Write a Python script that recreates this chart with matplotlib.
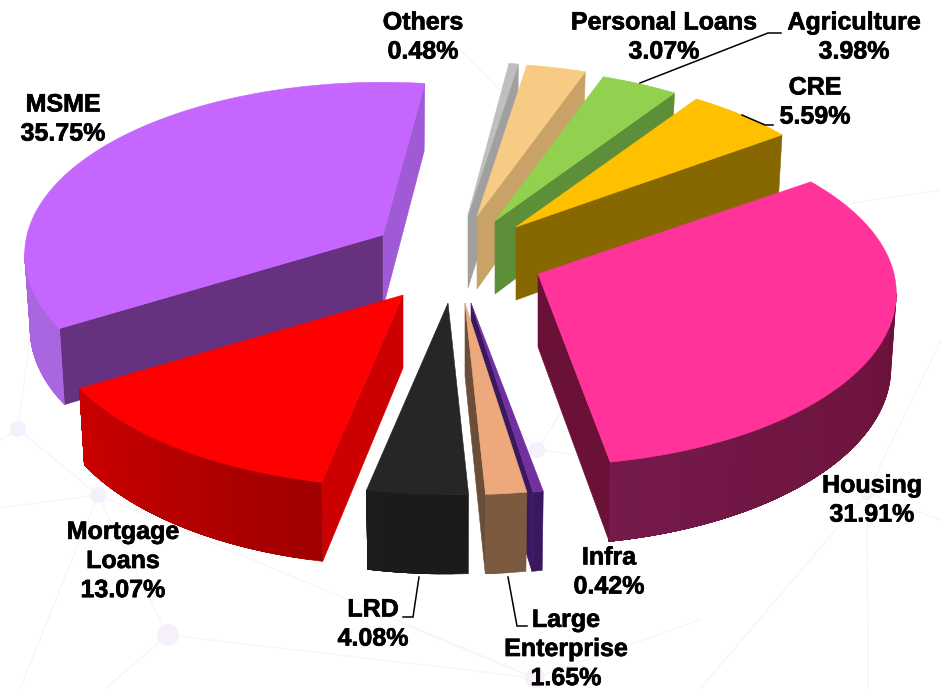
import numpy as np
import matplotlib
matplotlib.use("Agg")
import matplotlib.pyplot as plt
import matplotlib.patheffects as pe
from matplotlib.patches import Polygon, Circle
from matplotlib.colors import to_rgb

# Portfolio shares, clockwise from the start angle
segments = ["Others", "Personal Loans", "Agriculture", "CRE", "Housing",
            "Infra", "Large Enterprise", "LRD", "Mortgage Loans", "MSME"]
shares = [0.48, 3.07, 3.98, 5.59, 31.91, 0.42, 1.65, 4.08, 13.07, 35.75]
label_lines = ["Others", "Personal Loans", "Agriculture", "CRE", "Housing",
               "Infra", "Large\nEnterprise", "LRD", "Mortgage\nLoans", "MSME"]

# Colours per slice: top face, visible cut face, outer rim start and end
top_colors = ["#BFBFBF", "#F8CB84", "#92D050", "#FFC000", "#FF3399",
              "#7030A0", "#EDA97B", "#262626", "#FF0000", "#C566FF"]
cut_colors = ["#A0A0A0", "#C9A268", "#5C8F37", "#876800", "#6B1138",
              "#3A1860", "#6B4E38", "#1A1A1A", "#CC0000", "#66317F"]
rim_a = ["#A0A0A0", "#C9A268", "#5C8F37", "#876800", "#6B1138",
         "#3A1860", "#7B5A40", "#1A1A1A", "#A00000", "#A966E0"]
rim_b = ["#A0A0A0", "#C9A268", "#5C8F37", "#876800", "#751A4A",
         "#3A1860", "#7B5A40", "#1C1C1C", "#CC0000", "#A966E0"]
second_cut = {"MSME": "#A05AD6"}

# Where each exploded slice's tip lands on the canvas, and its horizontal reach
tips = [(468, 215), (477, 216), (495, 221), (516, 227), (538, 274),
        (471, 303), (465, 303), (448, 303), (403, 295), (383, 235)]
reach = [0.98, 0.97, 0.97, 0.975, 1.0, 1.0, 1.0, 1.0, 1.0, 1.0]

START_DEG = 7.5
RX, RY, PERSP = 356.0, 170.0, 0.113
HEIGHT, HEIGHT_PERSP = 73.0, 0.08
BASE_SHRINK = 0.985

# Faint network pattern behind the pie
bg_nodes = [(18, 429, 8), (98, 495, 8), (168, 635, 11), (537, 450, 8),
            (535, 678, 10), (867, 493, 7)]
bg_links = [((18, 429), (98, 495)), ((98, 495), (168, 635)), ((168, 635), (535, 678)),
            ((98, 495), (0, 508)), ((168, 635), (105, 689)), ((18, 429), (0, 440)),
            ((18, 429), (35, 300)), ((98, 495), (20, 689)), ((98, 495), (535, 678)),
            ((405, 625), (535, 678)), ((537, 450), (620, 320)),
            ((537, 450), (620, 460)), ((537, 450), (460, 360)), ((867, 493), (941, 520)),
            ((867, 493), (868, 689)), ((867, 493), (700, 689)), ((867, 493), (941, 340)),
            ((853, 203), (941, 190)), ((500, 90), (460, 50)), ((770, 130), (800, 90)),
            ((535, 678), (700, 620))]

# Centre of each label block on the canvas
label_xy = [(423, 37), (664, 37), (854, 37), (815, 102), (872, 500),
            (609, 572), (566, 649), (373, 624), (123, 561), (63, 119)]

# Leader lines from a slice to its label
leaders = [[(640, 83), (768, 33), (781, 33)],
           [(742, 115), (765, 125), (773, 125)],
           [(419, 577), (413, 617), (403, 617)],
           [(508, 577), (517, 626), (527, 626)]]


def top_point(tip, deg, r=1.0, sx=1.0):
    a = np.radians(deg)
    den = 1 + PERSP * r * np.cos(a)
    return np.array([tip[0] + sx * RX * r * np.sin(a) / den,
                     tip[1] - RY * r * np.cos(a) / den])


def base_point(tip, deg, r=1.0, sx=1.0):
    a = np.radians(deg)
    p = top_point(tip, deg, r, sx)
    return np.array([tip[0] + BASE_SHRINK * (p[0] - tip[0]),
                     p[1] + HEIGHT / (1 + HEIGHT_PERSP * r * np.cos(a))])


def mix(c0, c1, f):
    return tuple((1 - f) * x + f * y for x, y in zip(to_rgb(c0), to_rgb(c1)))


def fill(ax, pts, color):
    ax.add_patch(Polygon(pts, closed=True, facecolor=color, edgecolor=color,
                         linewidth=0.4, zorder=2))


fig = plt.figure(figsize=(9.41, 6.89), dpi=100)
ax = fig.add_axes([0, 0, 1, 1])
ax.set_xlim(0, 941)
ax.set_ylim(689, 0)
ax.axis("off")

for p, q in bg_links:
    ax.plot([p[0], q[0]], [p[1], q[1]], color="#F7F4FC", lw=1.0, zorder=0)
for x, y, rad in bg_nodes:
    ax.add_patch(Circle((x, y), rad, facecolor="#F5F0FB", edgecolor="none", zorder=0))

edges = START_DEG + np.concatenate([[0], np.cumsum(shares)]) * 3.6

# Paint from the back of the scene to the front
for i in np.argsort([t[1] for t in tips], kind="stable"):
    tip = tips[i]
    sx = reach[i]
    a0, a1 = edges[i], edges[i + 1]
    arc = np.linspace(a0, a1, max(int((a1 - a0) * 2), 4))
    tip_arr = np.array(tip, float)
    tip_base = base_point(tip, a0, 0.0)
    mid = top_point(tip, (a0 + a1) / 2, 1.0, sx) - tip_arr

    # Cut faces: shown only when the top face lies above the edge on screen
    for deg, is_end in ((a0, False), (a1, True)):
        e = top_point(tip, deg, 1.0, sx) - tip_arr
        side_down = e[0]
        side_in = e[0] * mid[1] - e[1] * mid[0]
        if side_down * side_in < 0:
            color = cut_colors[i]
            if is_end and segments[i] in second_cut:
                color = second_cut[segments[i]]
            fill(ax, [tip_arr, top_point(tip, deg, 1.0, sx),
                      base_point(tip, deg, 1.0, sx), tip_base], color)

    # Outer rim: each shade repaints the rest of the rim, so no seams show
    front = arc[np.cos(np.radians(arc)) < -PERSP]
    if len(front) > 1:
        for j in range(0, len(front) - 1, 4):
            f = j / max(len(front) - 2, 1)
            rest = front[j:]
            pts = ([top_point(tip, d, 1.0, sx) for d in rest]
                   + [base_point(tip, d, 1.0, sx) for d in rest[::-1]])
            fill(ax, pts, mix(rim_a[i], rim_b[i], f))

    # Top face
    fill(ax, [tip_arr] + [top_point(tip, d, 1.0, sx) for d in arc], top_colors[i])

for path in leaders:
    xs, ys = zip(*path)
    ax.plot(xs, ys, color="black", lw=1.1, zorder=3, solid_joinstyle="miter")

for name, share, (x, y) in zip(label_lines, shares, label_xy):
    ax.text(x, y, f"{name}\n{share:.2f}%", ha="center", va="center",
            family=["Liberation Sans", "DejaVu Sans"], fontweight="bold",
            fontsize=18, linespacing=1.27, color="black", zorder=4,
            path_effects=[pe.withStroke(linewidth=0.5, foreground="black")])

fig.savefig("out.png", dpi=100, facecolor="white")
